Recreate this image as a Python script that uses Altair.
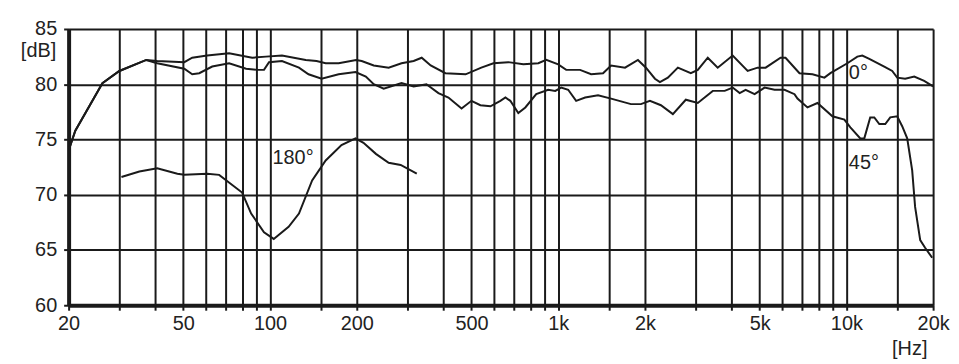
import json
import altair as alt
import pandas as pd

# 0° on-axis response
freq_0 = [20, 21.1, 26.2, 30, 37.2, 40.6, 50.4, 53.7, 60.5, 72.1, 86.7, 96.8, 110, 133, 145, 156, 173, 199,
          208, 229, 258, 286, 315, 336, 361, 406, 477, 541, 596, 671, 757, 853, 909, 1000, 1066, 1191, 1301,
          1431, 1526, 1706, 1891, 2016, 2166, 2254, 2402, 2602, 2885, 3051, 3304, 3577, 4032, 4544, 4920,
          5246, 5910, 6150, 6876, 7629, 8392, 8801, 10080, 10916, 11358, 12010, 13534, 14426, 15011, 16000,
          17200, 18620, 20000]
db_0 = [74.0, 75.8, 80.1, 81.2, 82.2, 82.1, 82.0, 82.4, 82.6, 82.8, 82.4, 82.5, 82.6, 82.2, 82.1, 81.9, 81.9, 82.2,
        82.1, 81.7, 81.5, 81.9, 82.1, 82.4, 81.7, 81.0, 80.9, 81.5, 81.9, 82.0, 81.8, 81.9, 82.2, 81.8, 81.3, 81.3, 80.9,
        81.0, 81.7, 81.5, 82.2, 81.5, 80.5, 80.2, 80.6, 81.5, 81.0, 81.3, 82.4, 81.5, 82.6, 81.2, 81.5,
        81.5, 82.4, 82.4, 81.0, 80.9, 80.6, 81.0, 81.9, 82.5, 82.6, 82.3, 81.6, 81.2, 80.6, 80.5,
        80.7, 80.3, 79.8]

# 45° off-axis response
freq_45 = [20, 21.1, 26.2, 30, 37.2, 40.6, 50.4, 53.7, 56.8, 63.0, 72.1, 82.6, 90.2, 95.3, 99.2, 110, 126, 136,
           151, 173, 198, 215, 229, 248, 286, 315, 349, 384, 416, 462, 500, 537, 582, 630, 656, 682, 727, 769,
           839, 923, 977, 1024, 1083, 1154, 1240, 1375, 1526, 1788, 1937, 2081, 2272, 2500, 2772, 3051, 3439,
           3783, 4032, 4264, 4472, 4804, 5204, 5634, 6100, 6608, 6766, 7328, 7937, 8944, 9840, 10324, 11178,
           11540, 12100, 12500, 13008, 13646, 14200, 15011, 15620, 16260, 16920, 17320, 18040, 18760, 19850]
db_45 = [74.0, 75.8, 80.1, 81.2, 82.2, 81.9, 81.4, 80.9, 81.0, 81.6, 81.9, 81.4, 81.3, 81.3, 82.0, 82.1, 81.5, 80.9,
         80.5, 80.9, 81.1, 80.7, 80.0, 79.6, 80.1, 79.8, 80.0, 79.2, 78.8, 77.8, 78.5, 78.1, 78.0, 78.5, 78.8, 78.5, 77.4, 77.9,
         79.1, 79.5, 79.4, 79.7, 79.5, 78.5, 78.8, 79.0, 78.7, 78.2, 78.2, 78.5, 78.1, 77.3, 78.6, 78.3, 79.4,
         79.4, 79.7, 79.2, 79.5, 79.1, 79.7, 79.5, 79.5, 79.1, 78.7, 77.9, 78.3, 77.1, 76.8, 76.1, 75.1,
         75.1, 77.0, 77.0, 76.4, 76.4, 77.0, 77.1, 76.2, 75.1, 72.2, 68.9, 65.9, 65.2, 64.3]

# 180° response
freq_180 = [30.5, 35.2, 40.6, 47.7, 50.4, 60.5, 66.6, 80, 86, 95.3, 103, 116, 126, 140, 156, 177, 198,
            211, 233, 258, 284, 323]
db_180 = [71.6, 72.1, 72.4, 71.9, 71.8, 71.9, 71.8, 70.2, 68.3, 66.6, 66.0, 67.1, 68.3, 71.3, 73.1, 74.5, 75.1,
          74.7, 73.7, 72.9, 72.7, 71.9]

series_names = ["0°", "45°", "180°"]

# grid / tick positions
grid_freqs = [20, 30, 40, 50, 60, 70, 80, 90, 100, 150, 200, 300, 400, 500, 600, 700, 800, 900,
              1000, 1500, 2000, 3000, 4000, 5000, 6000, 7000, 8000, 9000, 10000, 15000, 20000]
label_freqs = [20, 50, 100, 200, 500, 1000, 2000, 5000, 10000, 20000]
db_ticks = [60, 65, 70, 75, 80, 85]

# curve annotations
note_text = ["0°", "45°", "180°"]
note_freq = [10200, 10200, 102]
note_db = [81.0, 72.9, 73.3]

rows = []
for name, fs, ds in zip(series_names, [freq_0, freq_45, freq_180], [db_0, db_45, db_180]):
    for i, (f, d) in enumerate(zip(fs, ds)):
        rows.append({"series": name, "idx": i, "freq": f, "db": d})
df = pd.DataFrame(rows)
notes = pd.DataFrame({"text": note_text, "freq": note_freq, "db": note_db})

FONT = "Liberation Sans"
INK = "#1a1a1a"
FS = 20

label_expr = (
    "indexof(" + json.dumps(label_freqs) + ", datum.value) >= 0 ? "
    "(datum.value >= 1000 ? (datum.value / 1000) + 'k' : '' + datum.value) : ''"
)

x_scale = alt.Scale(type="log", domain=[20, 20000], nice=False)
y_scale = alt.Scale(domain=[60, 85], nice=False, zero=False)

x_axis = alt.Axis(
    values=grid_freqs, labelExpr=label_expr, title="[Hz]",
    titleX=846, titleY=44, titleAlign="center", titleBaseline="middle", titleAngle=0,
    grid=True, gridColor=INK, gridWidth=2, gridOpacity=1,
    domainColor=INK, domainWidth=4, tickColor=INK, tickWidth=2, tickSize=5,
    labelPadding=3, labelFontSize=FS, labelFont=FONT, labelColor="#222",
    titleFontSize=FS, titleFont=FONT, titleFontWeight="normal", titleColor="#222",
    labelFlush=False, labelOverlap=False, labelBound=False,
)
y_axis = alt.Axis(
    values=db_ticks, title="[dB]",
    titleX=-13, titleY=22, titleAlign="right", titleBaseline="middle", titleAngle=0,
    grid=True, gridColor=INK, gridWidth=2, gridOpacity=1,
    domainColor=INK, domainWidth=4, tickColor=INK, tickWidth=2, tickSize=5,
    labelPadding=7, labelFontSize=FS, labelFont=FONT, labelColor="#222",
    titleFontSize=FS, titleFont=FONT, titleFontWeight="normal", titleColor="#222",
    labelFlush=False, labelOverlap=False,
)

lines = alt.Chart(df).mark_line(color=INK, strokeWidth=2, clip=True).encode(
    x=alt.X("freq:Q", scale=x_scale, axis=x_axis),
    y=alt.Y("db:Q", scale=y_scale, axis=y_axis),
    detail="series:N",
    order="idx:Q",
)

texts = alt.Chart(notes).mark_text(
    align="left", baseline="middle", fontSize=FS, font=FONT, color="#222"
).encode(
    x=alt.X("freq:Q", scale=x_scale),
    y=alt.Y("db:Q", scale=y_scale),
    text="text:N",
)

chart = alt.layer(lines, texts).properties(
    width=870, height=278,
    autosize=alt.AutoSizeParams(type="none"),
    padding={"left": 61, "top": 20, "right": 18, "bottom": 56},
    background="white",
).configure_view(stroke=None)

chart.save("out.html", embed_options={"renderer": "svg", "actions": False})
